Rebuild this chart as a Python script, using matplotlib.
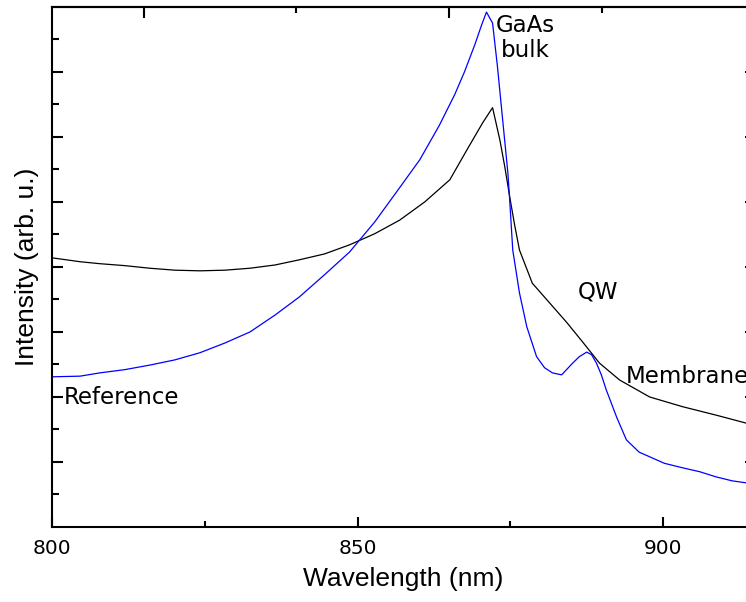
import numpy as np
import matplotlib
matplotlib.use("Agg")
import matplotlib.pyplot as plt
from matplotlib.ticker import FixedLocator, NullFormatter

# === data (wavelength in nm, intensity in arb. u.) ===
membrane_nm = [800.0, 804.6, 807.8, 811.9, 816.0, 820.1, 824.2, 828.3, 832.4, 836.5,
               840.5, 844.6, 848.7, 852.8, 856.9, 861.0, 865.1, 867.9, 870.5, 872.1,
               873.3, 874.1, 874.9, 875.7, 876.5, 878.6, 881.4, 884.2, 886.8, 889.6,
               892.9, 897.8, 903.2, 908.7, 913.5, 915.0]
membrane_int = [4.14, 4.08, 4.05, 4.02, 3.98, 3.95, 3.94, 3.95, 3.98, 4.03,
                4.11, 4.20, 4.34, 4.51, 4.72, 5.00, 5.34, 5.80, 6.22, 6.45,
                5.95, 5.54, 5.08, 4.65, 4.26, 3.75, 3.45, 3.15, 2.85, 2.52,
                2.26, 2.00, 1.85, 1.72, 1.60, 1.58]

reference_nm = [800.0, 804.6, 807.8, 811.9, 816.0, 820.1, 824.2, 828.3, 832.4, 836.5,
                840.5, 844.6, 848.7, 852.8, 856.9, 860.2, 863.4, 865.9, 867.5, 869.2,
                870.3, 871.1, 872.1, 872.9, 873.7, 874.6, 874.9, 875.4, 876.5, 877.7,
                879.3, 880.6, 881.9, 883.4, 885.2, 886.3, 887.5, 888.3, 889.1, 889.9,
                890.7, 892.4, 894.0, 896.1, 897.8, 900.2, 903.2, 906.0, 908.7, 911.3,
                913.5, 915.0]
reference_int = [2.31, 2.32, 2.37, 2.42, 2.49, 2.57, 2.68, 2.83, 3.00, 3.26,
                 3.54, 3.88, 4.23, 4.69, 5.22, 5.65, 6.18, 6.65, 7.00, 7.42,
                 7.72, 7.92, 7.75, 7.08, 6.31, 5.45, 5.03, 4.26, 3.60, 3.08,
                 2.62, 2.45, 2.37, 2.34, 2.52, 2.62, 2.69, 2.65, 2.52, 2.34,
                 2.11, 1.69, 1.34, 1.15, 1.08, 0.98, 0.91, 0.85, 0.77, 0.71,
                 0.68, 0.66]

x_major = [800, 850, 900]
x_minor = [825, 875]
top_major = [815, 865, 915]
top_minor = [840, 890]
y_major = [1, 2, 3, 4, 5, 6, 7]
y_minor = [0.5, 1.5, 2.5, 3.5, 4.5, 5.5, 6.5, 7.5]

plt.rcParams['font.family'] = ['DejaVu Sans']

fig = plt.figure(figsize=(7.46, 6.02), dpi=100)
# right spine sits just outside the picture, as in the reference crop
ax = fig.add_axes([0.0697, 0.1246, 0.942, 0.864])

ax.plot(membrane_nm, membrane_int, color='black', lw=0.9)
ax.plot(reference_nm, reference_int, color='#0000ff', lw=0.9)

ax.set_xlim(800, 915)
ax.set_ylim(0, 8)

for s in ax.spines.values():
    s.set_linewidth(1.5)

# bottom / left ticks
ax.xaxis.set_major_locator(FixedLocator(x_major))
ax.xaxis.set_minor_locator(FixedLocator(x_minor))
ax.yaxis.set_major_locator(FixedLocator(y_major))
ax.yaxis.set_minor_locator(FixedLocator(y_minor))
ax.yaxis.set_major_formatter(NullFormatter())
ax.tick_params(which='both', direction='in', width=1.5, top=False, right=False)
ax.tick_params(axis='x', which='major', length=7.5, labelsize=14.5, pad=9)
ax.tick_params(axis='x', which='minor', length=4.5)
ax.tick_params(axis='y', which='major', length=8)
ax.tick_params(axis='y', which='minor', length=5)

# top axis ticks (offset scale)
top = ax.secondary_xaxis('top')
top.xaxis.set_major_locator(FixedLocator(top_major))
top.xaxis.set_minor_locator(FixedLocator(top_minor))
top.xaxis.set_major_formatter(NullFormatter())
top.tick_params(which='both', direction='in', width=1.5)
top.tick_params(which='major', length=8)
top.tick_params(which='minor', length=4.5)
top.spines['top'].set_linewidth(1.5)

right = ax.secondary_yaxis('right')
right.yaxis.set_major_locator(FixedLocator(y_major))
right.yaxis.set_major_formatter(NullFormatter())
right.tick_params(which='both', direction='in', width=1.5, length=7)
right.spines['right'].set_linewidth(1.5)

ax.set_xlabel("Wavelength (nm)", fontsize=19, family='Liberation Sans', labelpad=6)
ax.set_ylabel("Intensity (arb. u.)", fontsize=19, family='Liberation Sans', labelpad=6)

# annotations
ax.text(877.4, 7.615, "GaAs", fontsize=16.5, ha='center', va='baseline')
ax.text(877.4, 7.23, "bulk", fontsize=16.5, ha='center', va='baseline')
ax.text(889.3, 3.51, "QW", fontsize=16.5, ha='center', va='baseline')
ax.text(893.85, 2.215, "Membrane", fontsize=16.5, ha='left', va='baseline', clip_on=False)
ax.text(801.96, 1.89, "Reference", fontsize=16.5, ha='left', va='baseline')

fig.savefig("out.png", dpi=100)
